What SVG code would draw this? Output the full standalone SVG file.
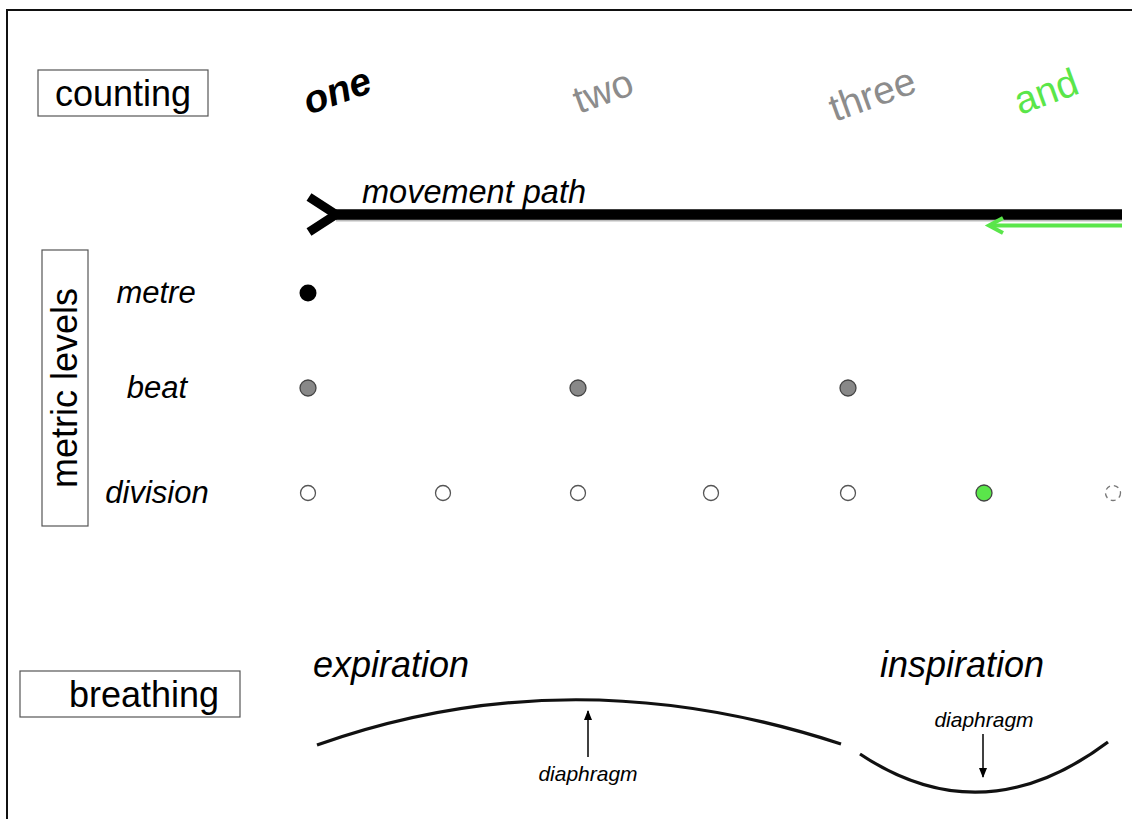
<svg xmlns="http://www.w3.org/2000/svg" width="1132" height="819" viewBox="0 0 1132 819">
<defs>
<style>
text{font-family:"Liberation Sans",Arial,sans-serif;fill:#000}
.box{fill:#fff;stroke:#555;stroke-width:1.2}
.lbl{font-size:36px;text-anchor:middle}
.lvl{font-size:31px;font-style:italic;text-anchor:middle}
.cnt{font-size:39px}
.curve{fill:none;stroke:#111;stroke-width:3.2}
.arr{stroke:#000;stroke-width:1.5;fill:none}
.div{fill:#fff;stroke:#555;stroke-width:1.3}
.beat{fill:#888;stroke:#444;stroke-width:1.3}
.sm{font-size:21px;font-style:italic;text-anchor:middle}
</style>
<marker id="ah" viewBox="0 0 10 10" refX="9" refY="5" markerWidth="10" markerHeight="10" markerUnits="userSpaceOnUse" orient="auto">
<path d="M0,1 L10,5 L0,9 Z" fill="#000"/>
</marker>
</defs>
<rect width="1132" height="819" fill="#fff"/>
<path d="M7,830 V10 H1140" fill="none" stroke="#111" stroke-width="2"/>

<g id="counting-label">
<rect class="box" x="38" y="70" width="170" height="46"/>
<text class="lbl" x="123" y="106">counting</text>
</g>
<g id="count-one"><text class="cnt" x="309" y="115" font-weight="bold" font-style="italic" transform="rotate(-20 309 115)">one</text></g>
<g id="count-two"><text class="cnt" x="579" y="114" style="fill:#8c8c8c" transform="rotate(-20 579 114)">two</text></g>
<g id="count-three"><text class="cnt" x="835" y="122" style="fill:#8c8c8c" transform="rotate(-20 835 122)">three</text></g>
<g id="count-and"><text class="cnt" x="1020" y="115" style="fill:#5ae64a" transform="rotate(-20 1020 115)">and</text></g>

<g id="movement-path">
<line x1="336" y1="216.5" x2="1122" y2="216.5" stroke="#bbb" stroke-width="10"/>
<line x1="336" y1="214.5" x2="1122" y2="214.5" stroke="#000" stroke-width="10.5"/>
<polyline points="309,197 336,214.5 309,232" fill="none" stroke="#000" stroke-width="9"/>
<text x="362" y="203" font-size="32.5" font-style="italic">movement path</text>
</g>
<g id="green-arrow">
<line x1="990" y1="225.5" x2="1122" y2="225.5" stroke="#5ae64a" stroke-width="4"/>
<polyline points="1003,218 989,225.5 1003,233" fill="none" stroke="#5ae64a" stroke-width="4"/>
</g>

<g id="metric-levels-label">
<rect class="box" x="42" y="250" width="46" height="276"/>
<text class="lbl" x="0" y="0" transform="translate(77 388) rotate(-90)">metric levels</text>
</g>
<g id="metre"><text class="lvl" x="156" y="303">metre</text><circle cx="308" cy="293" r="8.5" fill="#000"/></g>
<g id="beat">
<text class="lvl" x="157" y="398">beat</text>
<circle class="beat" cx="308" cy="388" r="8"/>
<circle class="beat" cx="578" cy="388" r="8"/>
<circle class="beat" cx="848" cy="388" r="8"/>
</g>
<g id="division">
<text class="lvl" x="157" y="503">division</text>
<circle class="div" cx="308" cy="493" r="7.5"/>
<circle class="div" cx="443" cy="493" r="7.5"/>
<circle class="div" cx="578" cy="493" r="7.5"/>
<circle class="div" cx="711" cy="493" r="7.5"/>
<circle class="div" cx="848" cy="493" r="7.5"/>
<circle cx="984" cy="493" r="8" fill="#5ae64a" stroke="#444" stroke-width="1.3"/>
<circle cx="1113" cy="493" r="7.5" fill="#fff" stroke="#777" stroke-width="1.3" stroke-dasharray="5,4"/>
</g>

<g id="breathing-label">
<rect class="box" x="20" y="671" width="220" height="46"/>
<text class="lbl" x="144" y="707">breathing</text>
</g>
<g id="expiration">
<text x="313" y="677" font-size="36" font-style="italic">expiration</text>
<path class="curve" d="M317,745 Q570,655 841,744"/>
<line class="arr" x1="588" y1="757" x2="588" y2="711" marker-end="url(#ah)"/>
<text class="sm" x="588" y="781">diaphragm</text>
</g>
<g id="inspiration">
<text x="880" y="677" font-size="36" font-style="italic">inspiration</text>
<path class="curve" d="M860,754 Q983,836 1108,742"/>
<line class="arr" x1="983" y1="734" x2="983" y2="777" marker-end="url(#ah)"/>
<text class="sm" x="984" y="727">diaphragm</text>
</g>
</svg>
